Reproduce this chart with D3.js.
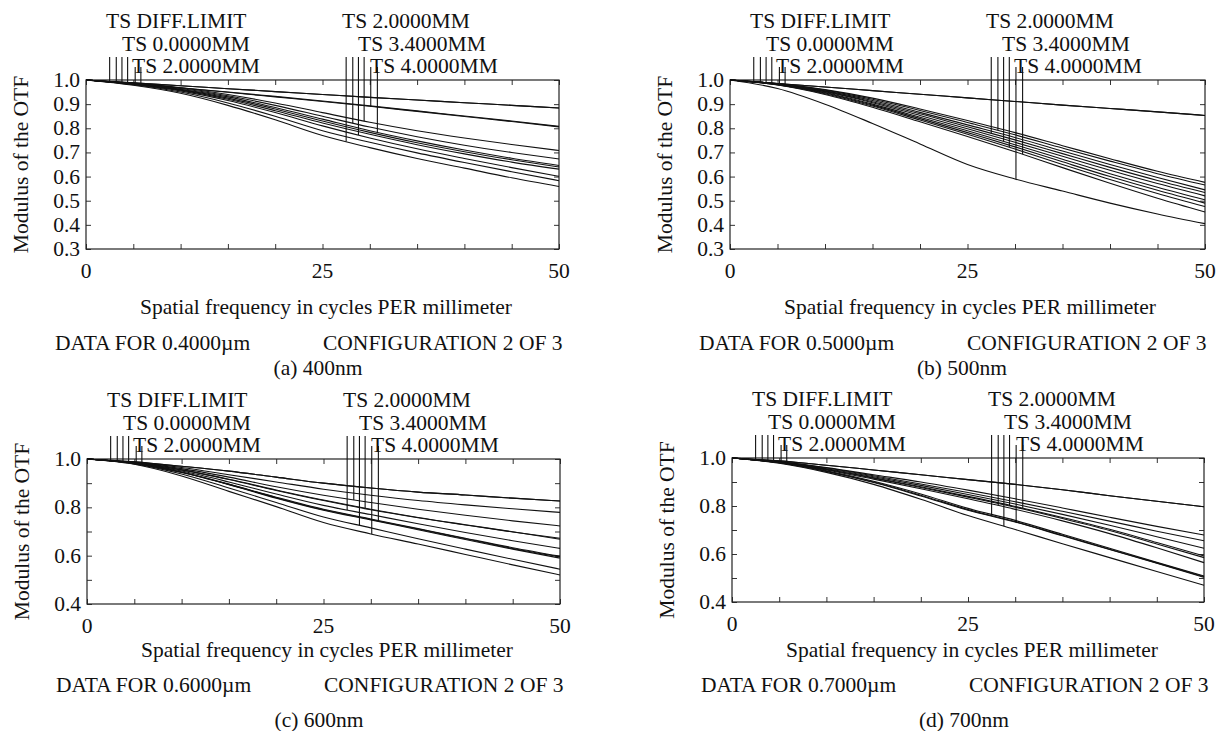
<!DOCTYPE html>
<html>
<head>
<meta charset="utf-8">
<script src="https://cdnjs.cloudflare.com/ajax/libs/d3/7.8.5/d3.min.js"></script>
<style>
  body { margin: 0; background: #fff; }
  text { font-family: "Liberation Serif", "Times New Roman", serif; fill: #111; font-size: 21.5px; }
</style>
</head>
<body>
<script>
var width = 1219;
var height = 731;

// spatial frequency samples (cycles/mm)
var freq = [0, 5, 10, 15, 20, 25, 30, 35, 40, 45, 50];

// legend labels, each one names a T and an S curve
var legendLabels = ["TS DIFF.LIMIT", "TS 0.0000MM", "TS 2.0000MM",
                    "TS 2.0000MM", "TS 3.4000MM", "TS 4.0000MM"];

// where the legend marker lines hit the curves (cycles/mm), one per curve
var markerX = [2.5, 3.2, 3.8, 4.4, 5.2, 5.8, 27.5, 28.2, 28.8, 29.4, 30.1, 30.8];

var wavelengths = ["0.4000\u00b5m", "0.5000\u00b5m", "0.6000\u00b5m", "0.7000\u00b5m"];
var captions = ["(a) 400nm", "(b) 500nm", "(c) 600nm", "(d) 700nm"];
var configText = "CONFIGURATION 2 OF 3";

var yDomains = [[0.3, 1.0], [0.3, 1.0], [0.4, 1.0], [0.4, 1.0]];
var yLabelTicks = [[0.3, 0.4, 0.5, 0.6, 0.7, 0.8, 0.9, 1.0],
                   [0.3, 0.4, 0.5, 0.6, 0.7, 0.8, 0.9, 1.0],
                   [0.4, 0.6, 0.8, 1.0],
                   [0.4, 0.6, 0.8, 1.0]];
var xLabelTicks = [0, 25, 50];

// MTF curves, 12 per wavelength (T and S for each legend entry)
var mtf400 = [
  [1, .988, .976, .964, .952, .940, .928, .917, .906, .895, .884],
  [1, .988, .976, .964, .952, .940, .928, .917, .906, .895, .884],
  [1, .985, .968, .950, .932, .913, .893, .872, .851, .830, .808],
  [1, .980, .950, .905, .850, .790, .742, .698, .658, .620, .583],
  [1, .983, .958, .920, .873, .822, .775, .732, .694, .660, .631],
  [1, .984, .960, .925, .880, .830, .783, .740, .703, .670, .640],
  [1, .978, .945, .895, .835, .770, .720, .675, .635, .595, .559],
  [1, .986, .965, .935, .895, .850, .805, .765, .730, .700, .673],
  [1, .982, .955, .915, .865, .810, .760, .715, .675, .637, .601],
  [1, .987, .968, .940, .905, .865, .825, .790, .760, .733, .708],
  [1, .985, .967, .949, .930, .911, .891, .870, .849, .828, .806],
  [1, .985, .962, .930, .886, .838, .790, .748, .710, .676, .646]
];

var mtf500 = [
  [1, .985, .971, .956, .941, .926, .911, .896, .882, .868, .853],
  [1, .985, .971, .956, .941, .926, .911, .896, .882, .868, .853],
  [1, .985, .960, .925, .880, .832, .782, .728, .674, .622, .576],
  [1, .984, .955, .915, .866, .814, .762, .706, .650, .596, .545],
  [1, .983, .951, .906, .853, .798, .742, .684, .626, .571, .520],
  [1, .981, .946, .896, .840, .782, .723, .661, .600, .543, .490],
  [1, .983, .953, .910, .860, .806, .752, .695, .638, .584, .534],
  [1, .985, .958, .920, .874, .824, .773, .718, .664, .612, .565],
  [1, .982, .948, .900, .846, .790, .732, .672, .612, .556, .504],
  [1, .980, .943, .892, .834, .775, .714, .650, .588, .530, .476],
  [1, .965, .900, .820, .735, .650, .590, .540, .490, .445, .405],
  [1, .979, .940, .887, .827, .766, .703, .637, .572, .510, .453]
];

var mtf600 = [
  [1, .988, .970, .950, .925, .900, .880, .863, .851, .838, .826],
  [1, .988, .970, .950, .925, .900, .880, .863, .851, .838, .826],
  [1, .986, .965, .935, .905, .875, .850, .828, .810, .794, .779],
  [1, .984, .955, .915, .870, .828, .790, .757, .727, .698, .672],
  [1, .982, .945, .895, .840, .790, .750, .710, .670, .630, .595],
  [1, .982, .944, .894, .838, .788, .748, .707, .667, .627, .590],
  [1, .983, .950, .905, .855, .808, .770, .732, .696, .662, .630],
  [1, .985, .960, .925, .885, .850, .820, .792, .767, .744, .723],
  [1, .980, .938, .880, .820, .760, .715, .670, .627, .585, .544],
  [1, .984, .955, .916, .872, .830, .792, .758, .728, .699, .668],
  [1, .978, .930, .866, .803, .737, .690, .648, .605, .562, .520],
  [1, .982, .946, .896, .842, .792, .752, .712, .672, .633, .598]
];

var mtf700 = [
  [1, .988, .970, .950, .930, .910, .890, .868, .843, .820, .797],
  [1, .988, .970, .950, .930, .910, .890, .868, .843, .820, .797],
  [1, .985, .960, .930, .900, .866, .830, .792, .753, .715, .679],
  [1, .984, .958, .926, .892, .856, .818, .778, .737, .695, .655],
  [1, .983, .955, .922, .886, .848, .808, .765, .720, .672, .624],
  [1, .981, .947, .903, .850, .790, .740, .682, .624, .565, .508],
  [1, .980, .945, .900, .845, .785, .735, .678, .620, .563, .505],
  [1, .981, .950, .912, .872, .830, .786, .738, .685, .626, .564],
  [1, .978, .940, .890, .828, .760, .702, .643, .585, .527, .470],
  [1, .982, .952, .916, .877, .837, .795, .748, .698, .642, .585],
  [1, .980, .944, .898, .842, .782, .733, .676, .619, .562, .503],
  [1, .982, .953, .918, .880, .840, .798, .752, .703, .648, .592]
];

var allCurves = [mtf400, mtf500, mtf600, mtf700];

// panel placement: plot box top-left, size, and the text rows under it
var panels = [
  {ox: 86,  oy: 80,  w: 473, h: 169, titleY: 314, dataY: 350, capY: 375},
  {ox: 730, oy: 80,  w: 475, h: 169, titleY: 314, dataY: 350, capY: 375},
  {ox: 87,  oy: 459, w: 473, h: 145, titleY: 657, dataY: 692, capY: 727},
  {ox: 732, oy: 458, w: 472, h: 144, titleY: 657, dataY: 692, capY: 727}
];

// marker line tops, px above the plot box
var markerTop = [23, 23, 13, 13, 4, 4];
var legendDx = [20, 36, 46, 256, 272, 284];
var legendDy = [-52, -29, -7];

var svg = d3.select('body').append('svg')
  .attr('width', width).attr('height', height);

var valueAt = function(vals, x) {
  var i = d3.bisectRight(freq, x) - 1;
  if (i >= freq.length - 1) return vals[vals.length - 1];
  var t = (x - freq[i]) / (freq[i + 1] - freq[i]);
  return vals[i] + t * (vals[i + 1] - vals[i]);
};

panels.forEach(function(p, k) {
  var g = svg.append('g').attr('transform', 'translate(' + p.ox + ',' + p.oy + ')');

  var x = d3.scaleLinear().domain([0, 50]).range([0, p.w]);
  var y = d3.scaleLinear().domain(yDomains[k]).range([p.h, 0]);

  var yTicks = d3.range(Math.round(yDomains[k][0] * 10), 11).map(function(v) { return v / 10; });
  var xTicks = d3.range(0, 51, 5);

  // inner ticks on all four sides
  g.append('g').call(d3.axisBottom(x).tickValues(xTicks).tickSize(-5).tickFormat(''))
    .attr('transform', 'translate(0,' + p.h + ')');
  g.append('g').call(d3.axisTop(x).tickValues(xTicks).tickSize(-5).tickFormat(''));
  g.append('g').call(d3.axisLeft(y).tickValues(yTicks).tickSize(-5).tickFormat(''));
  g.append('g').call(d3.axisRight(y).tickValues(yTicks).tickSize(-5).tickFormat(''))
    .attr('transform', 'translate(' + p.w + ',0)');
  g.selectAll('.domain').remove();
  g.selectAll('.tick line').attr('stroke', '#333').attr('stroke-width', 1);

  g.append('rect').attr('width', p.w).attr('height', p.h)
    .attr('fill', 'none').attr('stroke', '#222').attr('stroke-width', 1.2);

  // tick labels
  g.selectAll('.ylab').data(yLabelTicks[k]).enter().append('text')
    .attr('x', -6).attr('y', function(d) { return y(d) + 7; })
    .attr('text-anchor', 'end')
    .text(function(d) { return d.toFixed(1); });
  g.selectAll('.xlab').data(xLabelTicks).enter().append('text')
    .attr('x', function(d) { return x(d); }).attr('y', p.h + 29)
    .attr('text-anchor', 'middle')
    .text(function(d) { return d; });

  // curves
  var line = d3.line()
    .x(function(d, i) { return x(freq[i]); })
    .y(function(d) { return y(d); })
    .curve(d3.curveMonotoneX);
  g.selectAll('.curve').data(allCurves[k]).enter().append('path')
    .attr('d', line).attr('fill', 'none')
    .attr('stroke', '#111').attr('stroke-width', 1.1);

  // legend marker lines down to each curve
  g.selectAll('.marker').data(allCurves[k]).enter().append('line')
    .attr('x1', function(d, i) { return x(markerX[i]); })
    .attr('x2', function(d, i) { return x(markerX[i]); })
    .attr('y1', function(d, i) { return -markerTop[Math.floor((i % 6) / 2)]; })
    .attr('y2', function(d, i) { return y(valueAt(d, markerX[i])); })
    .attr('stroke', '#111').attr('stroke-width', 1.1);

  // legend labels
  g.selectAll('.leg').data(legendLabels).enter().append('text')
    .attr('x', function(d, i) { return legendDx[i]; })
    .attr('y', function(d, i) { return legendDy[i % 3]; })
    .text(function(d) { return d; });

  // axis titles and notes
  svg.append('text')
    .attr('transform', 'translate(' + (p.ox - 58) + ',' + (p.oy + p.h / 2) + ') rotate(-90)')
    .attr('text-anchor', 'middle')
    .text('Modulus of the OTF');
  svg.append('text').attr('x', p.ox + 240).attr('y', p.titleY)
    .attr('text-anchor', 'middle')
    .text('Spatial frequency in cycles PER millimeter');
  svg.append('text').attr('x', p.ox - 31).attr('y', p.dataY)
    .text('DATA FOR ' + wavelengths[k]);
  svg.append('text').attr('x', p.ox + 237).attr('y', p.dataY)
    .text(configText);
  svg.append('text').attr('x', p.ox + 232).attr('y', p.capY)
    .attr('text-anchor', 'middle')
    .text(captions[k]);
});
</script>
</body>
</html>
